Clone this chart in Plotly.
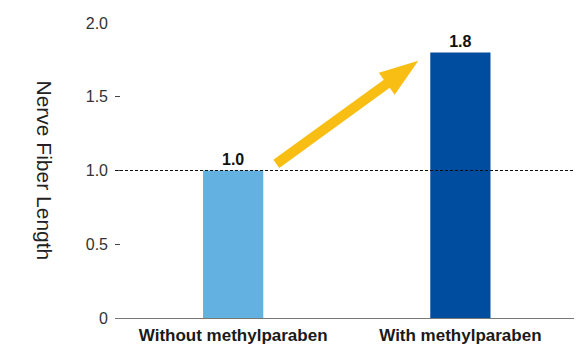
import math
import plotly.graph_objects as go

# Relative nerve fiber length, normalised to the untreated condition
categories = ["Without methylparaben", "With methylparaben"]
values = [1.0, 1.8]
bar_colors = ["#63B1E0", "#004DA0"]

y_tickvals = [0, 0.5, 1.0, 1.5, 2.0]
y_ticktext = ["0", "0.5", "1.0", "1.5", "2.0"]

FONT = "Liberation Sans, Arial, Helvetica, sans-serif"

fig = go.Figure()
fig.add_trace(go.Bar(
    x=categories,
    y=values,
    marker=dict(color=bar_colors, line=dict(width=0)),
    width=0.265,
    text=[f"{v:.1f}" for v in values],
    textposition="outside",
    textfont=dict(family=FONT, size=16, color="#111", weight="bold"),
    cliponaxis=False,
    hoverinfo="skip",
))

# Baseline reference at 1.0
fig.add_shape(
    type="line", xref="paper", yref="y",
    x0=0, x1=1, y0=values[0], y1=values[0],
    line=dict(color="#111", width=1, dash="3px,2px"),
    layer="above",
)

# Upward arrow from the first bar towards the second (drawn in pixels,
# anchored in data space just right of the first bar's label)
anchor_x, anchor_y = 0.19, 1.045
dx, dy = 142.0, 103.0           # tail -> tip, pixels (y up)
shaft_half, head_half, head_len = 5.0, 13.5, 39.0
L = math.hypot(dx, dy)
ux, uy = dx / L, dy / L
nx, ny = -uy, ux
hb = L - head_len
pts = [
    (shaft_half * nx, shaft_half * ny),
    (hb * ux + shaft_half * nx, hb * uy + shaft_half * ny),
    (hb * ux + head_half * nx, hb * uy + head_half * ny),
    (dx, dy),
    (hb * ux - head_half * nx, hb * uy - head_half * ny),
    (hb * ux - shaft_half * nx, hb * uy - shaft_half * ny),
    (-shaft_half * nx, -shaft_half * ny),
]
path = "M " + " L ".join(f"{px:.2f},{py:.2f}" for px, py in pts) + " Z"
fig.add_shape(
    type="path", xref="x", yref="y",
    xsizemode="pixel", ysizemode="pixel",
    xanchor=anchor_x, yanchor=anchor_y,
    path=path,
    fillcolor="#F9BE14", line=dict(width=0),
    layer="above",
)

# Rotated axis title reading top-to-bottom
fig.add_annotation(
    text="Nerve Fiber Length",
    xref="paper", yref="paper", x=0, y=0.5,
    xshift=-71, xanchor="center", yanchor="middle",
    textangle=90, showarrow=False,
    font=dict(family=FONT, size=21, color="#222"),
)

fig.update_layout(
    width=582, height=344,
    margin=dict(l=115, r=8, t=23, b=26),
    paper_bgcolor="white", plot_bgcolor="white",
    showlegend=False,
    font=dict(family=FONT),
    xaxis=dict(
        type="category",
        range=[-0.52, 1.5],
        automargin=False,
        showgrid=False, zeroline=False,
        showline=True, linecolor="#777", linewidth=1,
        ticks="",
        ticklabelstandoff=2,
        tickfont=dict(family=FONT, size=17, color="#1a1a1a", weight="bold"),
    ),
    yaxis=dict(
        range=[0, 2.0],
        automargin=False,
        showgrid=False, zeroline=False, showline=False,
        tickvals=y_tickvals, ticktext=y_ticktext,
        ticks="inside", ticklen=5, tickwidth=1, tickcolor="#444",
        ticklabelstandoff=6,
        tickfont=dict(family=FONT, size=16, color="#333"),
    ),
)

fig.write_html("out.html")
